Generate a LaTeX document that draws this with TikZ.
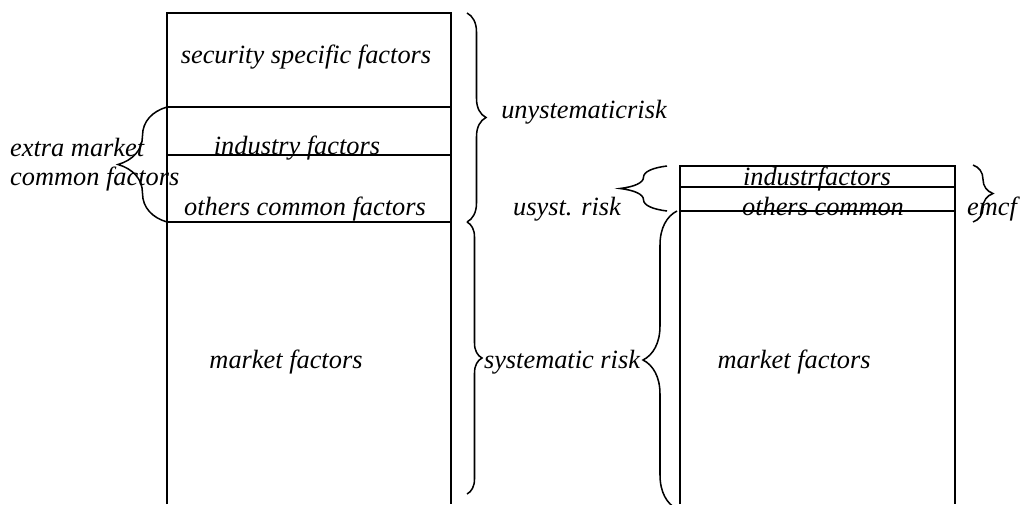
\documentclass[tikz,border=0pt]{standalone}
\usepackage{fontspec}
\setmainfont{Liberation Serif}
\usetikzlibrary{decorations.pathreplacing}

\tikzset{
  lbl/.style={font=\fontsize{22.5}{24.7}\selectfont\itshape, inner sep=0pt, anchor=base},
  boxline/.style={line width=1.6pt},
  brc/.style={decorate, line width=1.3pt, decoration={brace, amplitude=#1}},
}

\begin{document}
\begin{tikzpicture}[x=0.3mm, y=-0.3mm]
\useasboundingbox (0,0) rectangle (1022,504);

% left column
\draw[boxline] (167,504) -- (167,13) -- (451,13) -- (451,504);
\foreach \yy in {107,155,222}
  \draw[boxline] (167,\yy) -- (451,\yy);

% right column
\draw[boxline] (680,504) -- (680,166) -- (955,166) -- (955,504);
\foreach \yy in {187,211}
  \draw[boxline] (680,\yy) -- (955,\yy);

% braces
\coordinate (uTop) at (467,13);
\coordinate (uBot) at (467,222);
\coordinate (sBot) at (467,494);
\draw[brc=5.7mm] (uTop) -- (uBot);
\draw[brc=4.5mm] (uBot) -- (sBot);
\draw[brc=10.2mm] (677,509) -- (677,211);
\draw[brc=14.7mm] (167,222) -- (167,107);
\draw[brc=14.1mm] (667,211) -- (667,166);
\draw[brc=6mm] (973,165) -- (973,222);

% left texts
\node[lbl] (secf) at (306,63) {security specific factors};
\node[lbl] (indf) at (297,154) {industry factors};
\node[lbl] (othf) at (305,215) {others common factors};
\node[lbl] (mktl) at (286,368) {market factors};
\node[lbl, anchor=west, align=left] (emcl) at (10,165) {extra market\\common factors};

% middle texts
\node[lbl] (unsr) at (584,118) {unystematicrisk};
\node[lbl] (sysr) at (562,368) {systematic risk};
\node[lbl] (usyr) at (567,215) {usyst. risk};

% right texts
\node[lbl] (indr) at (817,185) {industrfactors};
\node[lbl] (othr) at (823,215) {others common};
\node[lbl] (mktr) at (794,368) {market factors};
\node[lbl, anchor=base west] (emcf) at (967,215) {emcf};
\end{tikzpicture}
\end{document}
